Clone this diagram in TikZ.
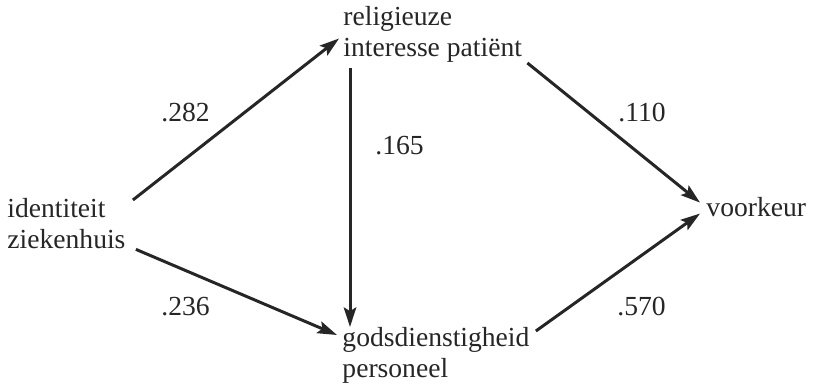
\documentclass[tikz,border=0pt]{standalone}
\usepackage{fontspec}
\setmainfont{Liberation Serif}
\usetikzlibrary{calc, positioning}
\usetikzlibrary{arrows.meta}
\definecolor{inkgray}{HTML}{262626}
\tikzset{
    varnode/.style = {
        inner sep=0pt, align=left, anchor=north west, text=inkgray,
        font=\fontsize{12}{13.5}\selectfont
    },
    coefnode/.style = {
        inner sep=0pt, anchor=base west, text=inkgray,
        font=\fontsize{12}{13.5}\selectfont
    },
    effect/.style = {
        draw=inkgray, line width=1.3pt,
        -{Stealth[length=8.5pt, width=5.4pt, inset=1.6pt]}
    },
}

\begin{document}
\begin{tikzpicture}[x=0.435pt, y=-0.435pt]
        \useasboundingbox (0,0) rectangle (813,386);
        % Place the variables
        \node[varnode] (rel) at (343,6) {religieuze\\interesse patiënt};
        \node[varnode] (id) at (7,198) {identiteit\\ziekenhuis};
        \node[varnode] (god) at (342,327) {godsdienstigheid\\personeel};
        \node[coefnode] (voor) at (706,216) {voorkeur};

        % Draw connections
        \draw[effect] ($(id.north east)+(7,2)$) -- ($(rel.west)+(-4,4)$);
        \draw[effect] ($(id.south east)+(10,0)$) -- ($(god.north west)+(-5,8)$);
        \draw[effect] ($(rel.south west)+(7,5)$) -- ($(god.north west)+(8,0)$);
        \draw[effect] ($(rel.south east)+(5,0)$) -- ($(voor.west)+(-6,-4)$);
        \draw[effect] ($(god.north east)+(6,4)$) -- ($(voor.west)+(-6,7)$);

        % Path coefficients
        \node[coefnode] (w282) at (161,122) {.282};
        \node[coefnode] (w165) at (375,155) {.165};
        \node[coefnode] (w110) at (618,122) {.110};
        \node[coefnode] (w236) at (161,315) {.236};
        \node[coefnode] (w570) at (617,315) {.570};
    \end{tikzpicture}
\end{document}
